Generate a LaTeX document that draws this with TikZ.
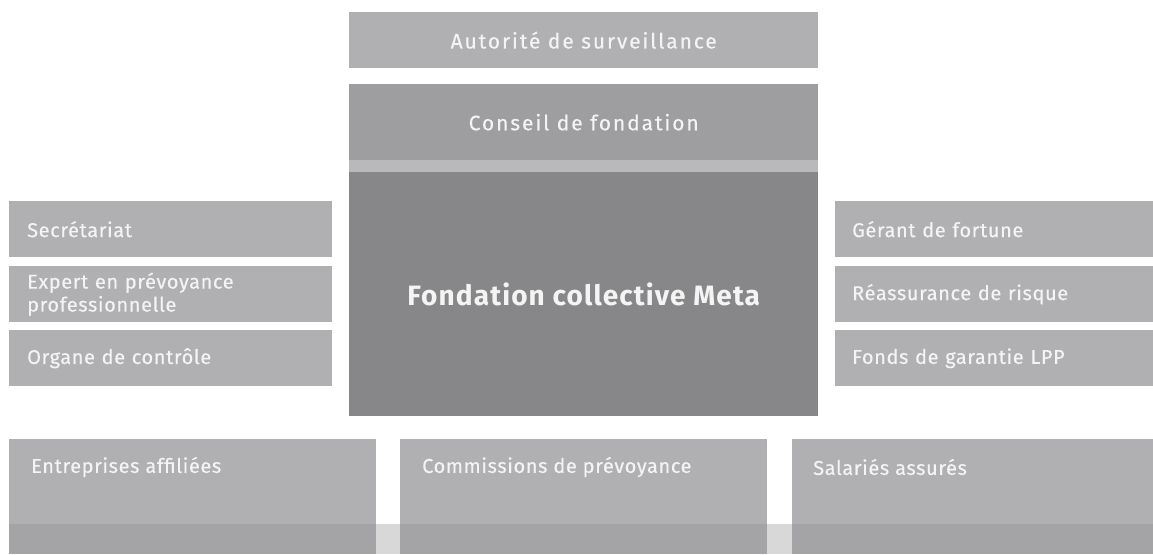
\documentclass[tikz,border=0pt]{standalone}
\usepackage{fontspec}
\setmainfont{Fira Sans}
\newfontfamily\panelfont{Fira Sans}[LetterSpace=3,FakeBold=0.3]
\newfontfamily\headfont{Fira Sans}[LetterSpace=9,FakeBold=0.3]
\newfontfamily\corefont{Fira Sans}[LetterSpace=4]
\usetikzlibrary{positioning,calc}

\definecolor{panelgray}{HTML}{B0B0B2}
\definecolor{councilgray}{HTML}{9E9EA0}
\definecolor{stripgray}{HTML}{B9B9BB}
\definecolor{coregray}{HTML}{878789}
\definecolor{footgray}{HTML}{A4A4A6}
\definecolor{gapgray}{HTML}{D8D8D8}
\definecolor{paneltext}{HTML}{F4F4F4}

\tikzset{
  panel/.style={fill=panelgray, text=paneltext, inner sep=0pt, anchor=north west,
    font=\panelfont\fontsize{20}{23}\selectfont},
  topbox/.style={panel, minimum width=469pt, font=\headfont\fontsize{21}{24}\selectfont},
  leftbox/.style={panel, minimum height=56pt, inner xsep=18pt, text width=287pt, align=left},
  rightbox/.style={panel, minimum height=56pt, inner xsep=17pt, text width=284pt, align=left},
  basebox/.style={panel, minimum height=115pt},
  baselabel/.style={text=paneltext, inner sep=0pt, anchor=west, font=\panelfont\fontsize{20}{23}\selectfont}
}

\begin{document}
\begin{tikzpicture}[x=1pt,y=-1pt]
    \useasboundingbox (0,0) rectangle (1153,554);

    % centre column
    \node[topbox, minimum height=56pt] (autorite) at (349,12) {Autorité de surveillance};
    \node[topbox, minimum height=76pt, fill=councilgray] (conseil) at (349,84) {Conseil de fondation};
    \fill[stripgray] (conseil.south west) rectangle ++(469,12);
    \node[topbox, minimum height=244pt, fill=coregray,
      font=\corefont\bfseries\fontsize{28}{32}\selectfont] (fondation) at (349,172) {Fondation collective Meta};

    % left side
    \node[leftbox] (secretariat) at (9,201) {Secrétariat};
    \node[leftbox] (expert) at (9,266) {Expert en prévoyance\\professionnelle};
    \node[leftbox] (organe) at (9,330) {Organe de contrôle};

    % right side
    \node[rightbox] (gerant) at (835,201) {Gérant de fortune};
    \node[rightbox] (reassurance) at (835,266) {Réassurance de risque};
    \node[rightbox] (garantie) at (835,330) {Fonds de garantie LPP};

    % bottom row
    \fill[gapgray] (9,524) rectangle (1153,554);
    \node[basebox, minimum width=367pt] (entreprises) at (9,439) {};
    \node[basebox, minimum width=367pt] (commissions) at (400,439) {};
    \node[basebox, minimum width=361pt] (salaries) at (792,439) {};
    \foreach \b in {entreprises,commissions,salaries}
      \fill[footgray] ($(\b.south west)+(0,-30)$) rectangle (\b.south east);

    \node[baselabel] (entreprisestxt) at ($(entreprises.north west)+(22,28)$) {Entreprises affiliées};
    \node[baselabel] (commissionstxt) at ($(commissions.north west)+(22,28)$) {Commissions de prévoyance};
    \node[baselabel] (salariestxt) at ($(salaries.north west)+(21,28)$) {Salariés assurés};
\end{tikzpicture}
\end{document}
